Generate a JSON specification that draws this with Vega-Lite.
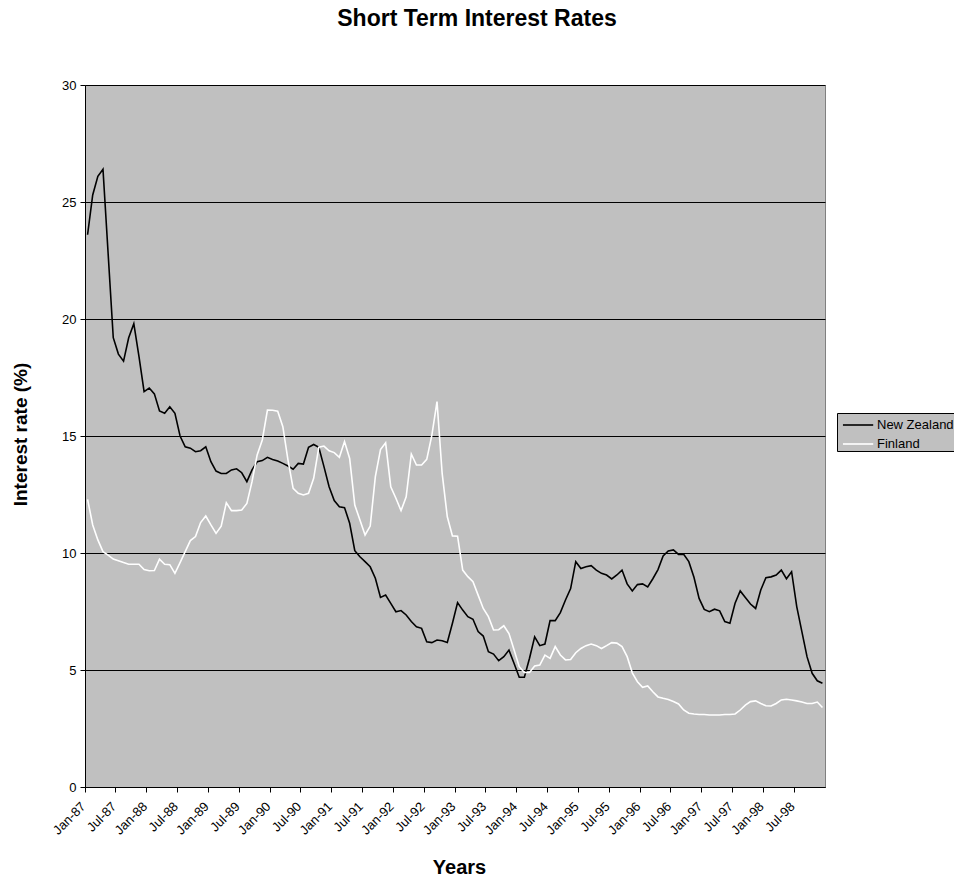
{
  "$schema": "https://vega.github.io/schema/vega-lite/v6.json",
  "width": 740,
  "height": 702,
  "autosize": {"type": "none"},
  "padding": {"left": 85, "top": 85, "right": 129, "bottom": 90},
  "background": "#ffffff",
  "config": {
    "font": "Liberation Sans",
    "view": {"fill": "#C0C0C0", "stroke": "#808080", "strokeWidth": 1}
  },
  "title": {
    "text": "Short Term Interest Rates",
    "font": "Liberation Sans",
    "fontSize": 23,
    "fontWeight": "bold",
    "color": "#000000",
    "anchor": "middle",
    "offset": 48,
    "dx": 22
  },
  "data": {
    "values": [
      {"month": "Jan-87", "New Zealand": 23.6, "Finland": 12.29},
      {"month": "Feb-87", "New Zealand": 25.3, "Finland": 11.2},
      {"month": "Mar-87", "New Zealand": 26.1, "Finland": 10.56},
      {"month": "Apr-87", "New Zealand": 26.4, "Finland": 10.06},
      {"month": "May-87", "New Zealand": 22.8, "Finland": 9.91},
      {"month": "Jun-87", "New Zealand": 19.2, "Finland": 9.74},
      {"month": "Jul-87", "New Zealand": 18.5, "Finland": 9.67},
      {"month": "Aug-87", "New Zealand": 18.2, "Finland": 9.59},
      {"month": "Sep-87", "New Zealand": 19.2, "Finland": 9.52},
      {"month": "Oct-87", "New Zealand": 19.8, "Finland": 9.52},
      {"month": "Nov-87", "New Zealand": 18.4, "Finland": 9.52},
      {"month": "Dec-87", "New Zealand": 16.9, "Finland": 9.29},
      {"month": "Jan-88", "New Zealand": 17.05, "Finland": 9.24},
      {"month": "Feb-88", "New Zealand": 16.8, "Finland": 9.25},
      {"month": "Mar-88", "New Zealand": 16.07, "Finland": 9.74},
      {"month": "Apr-88", "New Zealand": 15.97, "Finland": 9.52},
      {"month": "May-88", "New Zealand": 16.25, "Finland": 9.5},
      {"month": "Jun-88", "New Zealand": 15.97, "Finland": 9.13},
      {"month": "Jul-88", "New Zealand": 15.0, "Finland": 9.59},
      {"month": "Aug-88", "New Zealand": 14.54, "Finland": 10.06},
      {"month": "Sep-88", "New Zealand": 14.48, "Finland": 10.53},
      {"month": "Oct-88", "New Zealand": 14.33, "Finland": 10.7},
      {"month": "Nov-88", "New Zealand": 14.37, "Finland": 11.3},
      {"month": "Dec-88", "New Zealand": 14.54, "Finland": 11.58},
      {"month": "Jan-89", "New Zealand": 13.9, "Finland": 11.2},
      {"month": "Feb-89", "New Zealand": 13.5, "Finland": 10.84},
      {"month": "Mar-89", "New Zealand": 13.4, "Finland": 11.15},
      {"month": "Apr-89", "New Zealand": 13.4, "Finland": 12.15},
      {"month": "May-89", "New Zealand": 13.55, "Finland": 11.81},
      {"month": "Jun-89", "New Zealand": 13.6, "Finland": 11.81},
      {"month": "Jul-89", "New Zealand": 13.43, "Finland": 11.84},
      {"month": "Aug-89", "New Zealand": 13.05, "Finland": 12.12},
      {"month": "Sep-89", "New Zealand": 13.55, "Finland": 13.05},
      {"month": "Oct-89", "New Zealand": 13.9, "Finland": 14.19},
      {"month": "Nov-89", "New Zealand": 13.95, "Finland": 14.83},
      {"month": "Dec-89", "New Zealand": 14.09, "Finland": 16.11},
      {"month": "Jan-90", "New Zealand": 14.0, "Finland": 16.1},
      {"month": "Feb-90", "New Zealand": 13.93, "Finland": 16.06},
      {"month": "Mar-90", "New Zealand": 13.83, "Finland": 15.4},
      {"month": "Apr-90", "New Zealand": 13.72, "Finland": 13.97},
      {"month": "May-90", "New Zealand": 13.58, "Finland": 12.76},
      {"month": "Jun-90", "New Zealand": 13.83, "Finland": 12.55},
      {"month": "Jul-90", "New Zealand": 13.8, "Finland": 12.48},
      {"month": "Aug-90", "New Zealand": 14.52, "Finland": 12.55},
      {"month": "Sep-90", "New Zealand": 14.64, "Finland": 13.19},
      {"month": "Oct-90", "New Zealand": 14.52, "Finland": 14.52},
      {"month": "Nov-90", "New Zealand": 13.69, "Finland": 14.57},
      {"month": "Dec-90", "New Zealand": 12.83, "Finland": 14.37},
      {"month": "Jan-91", "New Zealand": 12.24, "Finland": 14.29},
      {"month": "Feb-91", "New Zealand": 11.98, "Finland": 14.09},
      {"month": "Mar-91", "New Zealand": 11.94, "Finland": 14.76},
      {"month": "Apr-91", "New Zealand": 11.27, "Finland": 14.04},
      {"month": "May-91", "New Zealand": 10.1, "Finland": 12.05},
      {"month": "Jun-91", "New Zealand": 9.84, "Finland": 11.41},
      {"month": "Jul-91", "New Zealand": 9.63, "Finland": 10.77},
      {"month": "Aug-91", "New Zealand": 9.41, "Finland": 11.15},
      {"month": "Sep-91", "New Zealand": 8.92, "Finland": 13.26},
      {"month": "Oct-91", "New Zealand": 8.1, "Finland": 14.42},
      {"month": "Nov-91", "New Zealand": 8.2, "Finland": 14.71},
      {"month": "Dec-91", "New Zealand": 7.85, "Finland": 12.83},
      {"month": "Jan-92", "New Zealand": 7.49, "Finland": 12.34},
      {"month": "Feb-92", "New Zealand": 7.54, "Finland": 11.81},
      {"month": "Mar-92", "New Zealand": 7.35, "Finland": 12.4},
      {"month": "Apr-92", "New Zealand": 7.07, "Finland": 14.23},
      {"month": "May-92", "New Zealand": 6.85, "Finland": 13.76},
      {"month": "Jun-92", "New Zealand": 6.78, "Finland": 13.76},
      {"month": "Jul-92", "New Zealand": 6.21, "Finland": 14.0},
      {"month": "Aug-92", "New Zealand": 6.17, "Finland": 15.04},
      {"month": "Sep-92", "New Zealand": 6.28, "Finland": 16.47},
      {"month": "Oct-92", "New Zealand": 6.25, "Finland": 13.4},
      {"month": "Nov-92", "New Zealand": 6.18, "Finland": 11.55},
      {"month": "Dec-92", "New Zealand": 7.0, "Finland": 10.73},
      {"month": "Jan-93", "New Zealand": 7.88, "Finland": 10.72},
      {"month": "Feb-93", "New Zealand": 7.56, "Finland": 9.27},
      {"month": "Mar-93", "New Zealand": 7.28, "Finland": 8.99},
      {"month": "Apr-93", "New Zealand": 7.17, "Finland": 8.77},
      {"month": "May-93", "New Zealand": 6.64, "Finland": 8.2},
      {"month": "Jun-93", "New Zealand": 6.45, "Finland": 7.63},
      {"month": "Jul-93", "New Zealand": 5.78, "Finland": 7.28},
      {"month": "Aug-93", "New Zealand": 5.68, "Finland": 6.71},
      {"month": "Sep-93", "New Zealand": 5.4, "Finland": 6.72},
      {"month": "Oct-93", "New Zealand": 5.57, "Finland": 6.89},
      {"month": "Nov-93", "New Zealand": 5.85, "Finland": 6.56},
      {"month": "Dec-93", "New Zealand": 5.28, "Finland": 5.85},
      {"month": "Jan-94", "New Zealand": 4.69, "Finland": 5.14},
      {"month": "Feb-94", "New Zealand": 4.69, "Finland": 4.89},
      {"month": "Mar-94", "New Zealand": 5.5, "Finland": 4.89},
      {"month": "Apr-94", "New Zealand": 6.42, "Finland": 5.17},
      {"month": "May-94", "New Zealand": 6.04, "Finland": 5.21},
      {"month": "Jun-94", "New Zealand": 6.11, "Finland": 5.64},
      {"month": "Jul-94", "New Zealand": 7.11, "Finland": 5.5},
      {"month": "Aug-94", "New Zealand": 7.11, "Finland": 6.0},
      {"month": "Sep-94", "New Zealand": 7.45, "Finland": 5.64},
      {"month": "Oct-94", "New Zealand": 7.99, "Finland": 5.43},
      {"month": "Nov-94", "New Zealand": 8.48, "Finland": 5.45},
      {"month": "Dec-94", "New Zealand": 9.63, "Finland": 5.74},
      {"month": "Jan-95", "New Zealand": 9.34, "Finland": 5.92},
      {"month": "Feb-95", "New Zealand": 9.41, "Finland": 6.04},
      {"month": "Mar-95", "New Zealand": 9.46, "Finland": 6.11},
      {"month": "Apr-95", "New Zealand": 9.27, "Finland": 6.04},
      {"month": "May-95", "New Zealand": 9.13, "Finland": 5.92},
      {"month": "Jun-95", "New Zealand": 9.06, "Finland": 6.04},
      {"month": "Jul-95", "New Zealand": 8.89, "Finland": 6.17},
      {"month": "Aug-95", "New Zealand": 9.06, "Finland": 6.15},
      {"month": "Sep-95", "New Zealand": 9.27, "Finland": 6.0},
      {"month": "Oct-95", "New Zealand": 8.68, "Finland": 5.57},
      {"month": "Nov-95", "New Zealand": 8.38, "Finland": 4.88},
      {"month": "Dec-95", "New Zealand": 8.65, "Finland": 4.5},
      {"month": "Jan-96", "New Zealand": 8.68, "Finland": 4.26},
      {"month": "Feb-96", "New Zealand": 8.55, "Finland": 4.32},
      {"month": "Mar-96", "New Zealand": 8.9, "Finland": 4.07},
      {"month": "Apr-96", "New Zealand": 9.29, "Finland": 3.85},
      {"month": "May-96", "New Zealand": 9.87, "Finland": 3.79},
      {"month": "Jun-96", "New Zealand": 10.09, "Finland": 3.74},
      {"month": "Jul-96", "New Zealand": 10.13, "Finland": 3.65},
      {"month": "Aug-96", "New Zealand": 9.94, "Finland": 3.55},
      {"month": "Sep-96", "New Zealand": 9.94, "Finland": 3.29},
      {"month": "Oct-96", "New Zealand": 9.63, "Finland": 3.15},
      {"month": "Nov-96", "New Zealand": 8.96, "Finland": 3.12},
      {"month": "Dec-96", "New Zealand": 8.06, "Finland": 3.1},
      {"month": "Jan-97", "New Zealand": 7.59, "Finland": 3.1},
      {"month": "Feb-97", "New Zealand": 7.49, "Finland": 3.08},
      {"month": "Mar-97", "New Zealand": 7.6, "Finland": 3.08},
      {"month": "Apr-97", "New Zealand": 7.53, "Finland": 3.08},
      {"month": "May-97", "New Zealand": 7.07, "Finland": 3.1},
      {"month": "Jun-97", "New Zealand": 7.0, "Finland": 3.1},
      {"month": "Jul-97", "New Zealand": 7.85, "Finland": 3.12},
      {"month": "Aug-97", "New Zealand": 8.38, "Finland": 3.29},
      {"month": "Sep-97", "New Zealand": 8.1, "Finland": 3.5},
      {"month": "Oct-97", "New Zealand": 7.82, "Finland": 3.65},
      {"month": "Nov-97", "New Zealand": 7.63, "Finland": 3.68},
      {"month": "Dec-97", "New Zealand": 8.42, "Finland": 3.57},
      {"month": "Jan-98", "New Zealand": 8.94, "Finland": 3.47},
      {"month": "Feb-98", "New Zealand": 8.98, "Finland": 3.46},
      {"month": "Mar-98", "New Zealand": 9.06, "Finland": 3.57},
      {"month": "Apr-98", "New Zealand": 9.27, "Finland": 3.72},
      {"month": "May-98", "New Zealand": 8.9, "Finland": 3.75},
      {"month": "Jun-98", "New Zealand": 9.2, "Finland": 3.72},
      {"month": "Jul-98", "New Zealand": 7.71, "Finland": 3.68},
      {"month": "Aug-98", "New Zealand": 6.64, "Finland": 3.63},
      {"month": "Sep-98", "New Zealand": 5.57, "Finland": 3.57},
      {"month": "Oct-98", "New Zealand": 4.86, "Finland": 3.57},
      {"month": "Nov-98", "New Zealand": 4.54, "Finland": 3.63},
      {"month": "Dec-98", "New Zealand": 4.43, "Finland": 3.4}
    ]
  },
  "transform": [
    {"fold": ["New Zealand", "Finland"], "as": ["country", "rate"]}
  ],
  "mark": {"type": "line", "strokeWidth": 1.6, "interpolate": "linear"},
  "encoding": {
    "x": {
      "field": "month",
      "type": "ordinal",
      "sort": null,
      "bandPosition": 0.5,
      "scale": {"type": "band", "paddingInner": 0, "paddingOuter": 0},
      "axis": {
        "title": "Years",
        "values": ["Jan-87", "Jul-87", "Jan-88", "Jul-88", "Jan-89", "Jul-89", "Jan-90", "Jul-90", "Jan-91", "Jul-91", "Jan-92", "Jul-92", "Jan-93", "Jul-93", "Jan-94", "Jul-94", "Jan-95", "Jul-95", "Jan-96", "Jul-96", "Jan-97", "Jul-97", "Jan-98", "Jul-98"],
        "bandPosition": 0,
        "labelAngle": -45,
        "labelAlign": "right",
        "labelBaseline": "middle",
        "labelFontSize": 13,
        "labelColor": "#000000",
        "labelPadding": 12,
        "labelOffset": -4,
        "tickSize": 5,
        "tickColor": "#000000",
        "domainColor": "#000000",
        "grid": false,
        "titleFontSize": 20,
        "titleFontWeight": "bold",
        "titleColor": "#000000",
        "titleBaseline": "alphabetic",
        "titleX": 374,
        "titleY": 86
      }
    },
    "y": {
      "field": "rate",
      "type": "quantitative",
      "scale": {"domain": [0, 30], "nice": false, "zero": true},
      "axis": {
        "title": "Interest rate (%)",
        "values": [0, 5, 10, 15, 20, 25, 30],
        "grid": true,
        "gridColor": "#000000",
        "gridOpacity": 1,
        "gridWidth": 1,
        "tickSize": 5,
        "tickColor": "#000000",
        "domainColor": "#000000",
        "labelFontSize": 13,
        "labelColor": "#000000",
        "labelPadding": 4,
        "titleFontSize": 19,
        "titleFontWeight": "bold",
        "titleColor": "#000000",
        "titleAngle": -90,
        "titleBaseline": "alphabetic",
        "titleAlign": "center",
        "titleX": -59,
        "titleY": 349
      }
    },
    "color": {
      "field": "country",
      "type": "nominal",
      "scale": {"domain": ["New Zealand", "Finland"], "range": ["#000000", "#ffffff"]},
      "legend": {
        "title": null,
        "orient": "none",
        "legendX": 752,
        "legendY": 328,
        "fillColor": "#C0C0C0",
        "strokeColor": "#000000",
        "padding": 0,
        "symbolType": "M-0.55,0H2.2",
        "symbolSize": 484,
        "symbolStrokeWidth": 1.6,
        "labelFontSize": 13,
        "labelColor": "#000000",
        "labelOffset": 16,
        "rowPadding": 0
      }
    }
  }
}
